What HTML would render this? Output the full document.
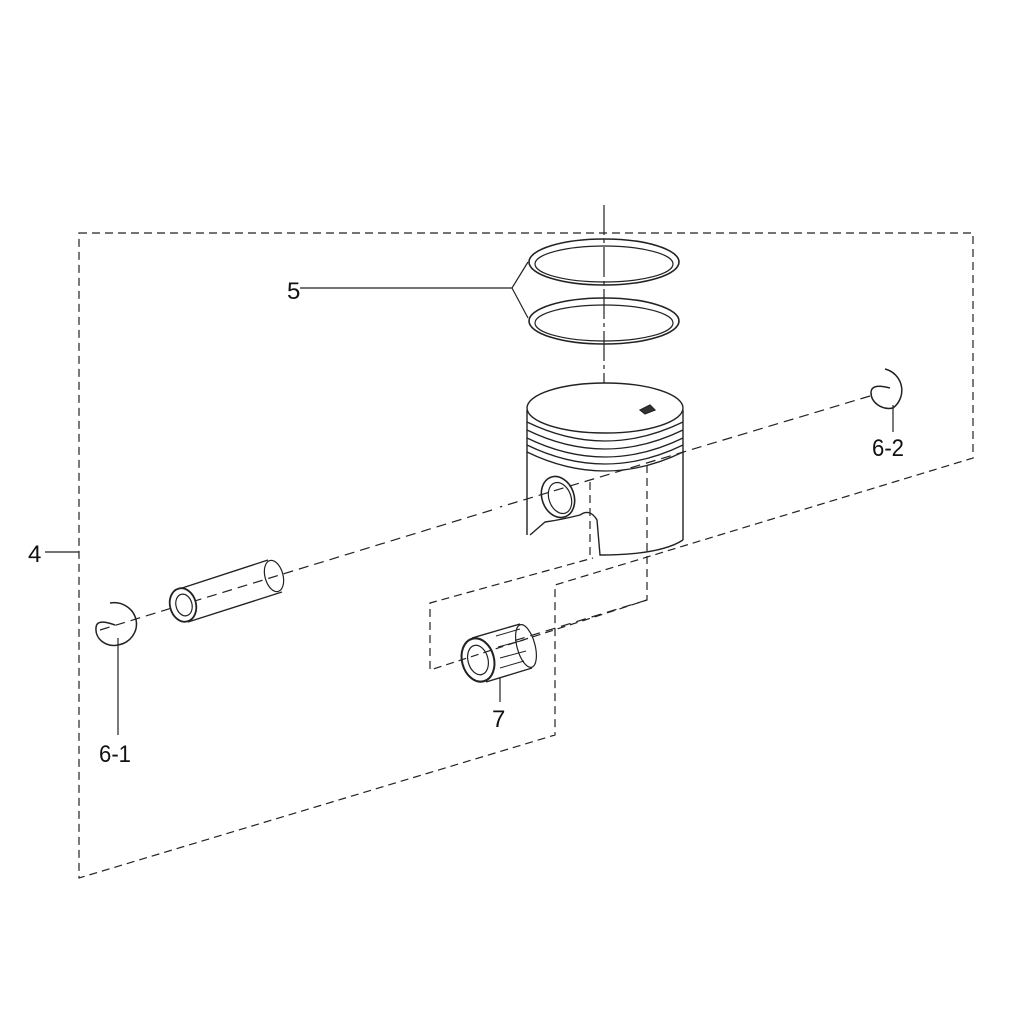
<!DOCTYPE html>
<html><head><style>html,body{margin:0;padding:0;background:#fff}svg{display:block}</style></head><body>
<svg width="1023" height="1024" viewBox="0 0 1023 1024" xmlns="http://www.w3.org/2000/svg" font-family="Liberation Sans, sans-serif">
<g fill="none" stroke="#222" stroke-width="1.2">
<path d="M79,233 L973,233 L973,458 L555,585 L555,735 L79,878 Z" stroke-dasharray="8,5"/>
<path d="M647,465 L647,600 L430,670 L430,603 L593,558 M590,482 L590,555" stroke-dasharray="8,5"/>
<path d="M604,205 L604,400" stroke-dasharray="30,4,4,4"/>
<path d="M870,396 L500,507 M492,510 L100,630" stroke-dasharray="10,6"/>
<path d="M647,600 L510,642" stroke-dasharray="10,6"/>
<path d="M300,288 L512,288 L528,262 M512,288 L528,318"/>
<line x1="45" y1="552" x2="79" y2="552"/>
<line x1="118" y1="638" x2="118" y2="735"/>
<line x1="893" y1="405" x2="893" y2="432"/>
<line x1="500" y1="678" x2="500" y2="702"/>
<ellipse cx="604" cy="262" rx="75" ry="23" stroke-width="1.6"/>
<ellipse cx="604" cy="264" rx="69" ry="18"/>
<ellipse cx="604" cy="321" rx="75" ry="23" stroke-width="1.6"/>
<ellipse cx="604" cy="323" rx="69" ry="18"/>
<ellipse cx="605" cy="408" rx="78" ry="25" stroke-width="1.4" fill="#fff"/>
<path d="M527,410 L527,535 M683,410 L683,540" stroke-width="1.4"/>
<path d="M527,422 Q605,460 683,422 M527,430 Q605,468 683,430 M527,438 Q605,476 683,438 M527,445 Q605,483 683,445 M527,452 Q605,490 683,452" stroke-width="1.3"/>
<path d="M683,540 Q660,555 600,555 L597,520 Q590,508 580,515 Q560,520 545,522 L530,535" stroke-width="1.4"/>
<ellipse cx="558" cy="497" rx="16" ry="21" transform="rotate(-20 558 497)" stroke-width="1.6"/>
<ellipse cx="560" cy="498" rx="11" ry="16" transform="rotate(-20 560 498)"/>
<path d="M640,410 L650,405 L655,410 L645,414 Z" fill="#333"/>
<path d="M176,590 L268,560 M188,622 L282,592" stroke-width="1.4"/>
<ellipse cx="274" cy="576" rx="9" ry="16" transform="rotate(-15 274 576)"/>
<ellipse cx="183" cy="605" rx="13" ry="17" transform="rotate(-15 183 605)" stroke-width="1.8" fill="#fff"/>
<ellipse cx="184" cy="605" rx="8" ry="11" transform="rotate(-15 184 605)"/>
<path d="M110,603 A20,19 0 1 1 118,645 A18,16 0 0 1 96,628 Q96,618 115,625" stroke-width="1.5"/>
<path d="M885,369 A22,22 0 0 1 893,408 A18,16 0 0 1 871,392 Q872,383 890,388" stroke-width="1.5"/>
<ellipse cx="478" cy="660" rx="16" ry="22" transform="rotate(-15 478 660)" stroke-width="2"/>
<ellipse cx="478" cy="660" rx="10" ry="15" transform="rotate(-15 478 660)"/>
<path d="M472,638 L520,624 M486,682 L532,668" stroke-width="1.4"/>
<ellipse cx="526" cy="646" rx="9" ry="22" transform="rotate(-15 526 646)"/>
<path d="M496,636 L520,629 M498,647 L524,640 M500,658 L526,651 M500,668 L524,661" stroke-width="1"/>
</g>
<g font-size="24" fill="#111">
<text x="287" y="299">5</text>
<text x="28" y="562">4</text>
<text x="99" y="762" textLength="32" lengthAdjust="spacingAndGlyphs">6-1</text>
<text x="872" y="456" textLength="32" lengthAdjust="spacingAndGlyphs">6-2</text>
<text x="492" y="727">7</text>
</g>
</svg>
</body></html>
